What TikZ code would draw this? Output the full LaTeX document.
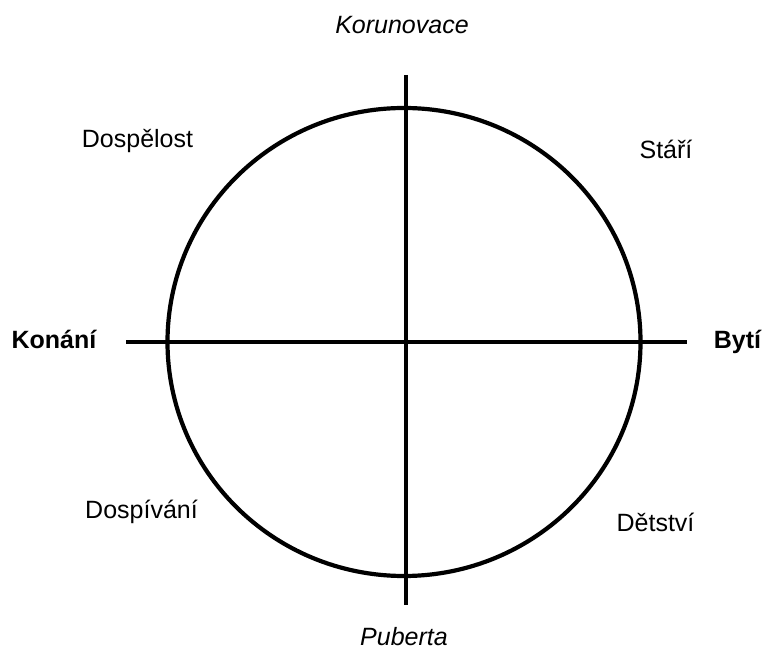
\documentclass[tikz,border=0pt]{standalone}
\usepackage{fontspec}
\setmainfont{Liberation Sans}
\begin{document}
\begin{tikzpicture}[x=1pt,y=1pt,
  lbl/.style={inner sep=0pt,font=\fontsize{25}{29}\selectfont,text height=17.5pt,text depth=0pt,anchor=center},
  axis/.style={line width=4.5pt},
  ring/.style={line width=4.2pt}]
\useasboundingbox (0,0) rectangle (762,650);
\coordinate (c) at (404,308);
\coordinate (top) at (406,575);
\coordinate (bot) at (406,45);
\coordinate (lft) at (126,308);
\coordinate (rgt) at (687,308);
\draw[ring] (c) circle[x radius=236.5, y radius=234];
\draw[axis] (top) -- (bot);
\draw[axis] (lft) -- (rgt);
\node[lbl,font=\fontsize{25}{29}\selectfont\itshape] (kor) at (402,625) {Korunovace};
\node[lbl,font=\fontsize{25}{29}\selectfont\itshape] (pub) at (404,13) {Puberta};
\node[lbl,font=\fontsize{25}{29}\selectfont\bfseries] (kon) at (54,310) {Konání};
\node[lbl,font=\fontsize{25}{29}\selectfont\bfseries] (byt) at (737.5,310) {Bytí};
\node[lbl] (dosp) at (137.5,511.5) {Dospělost};
\node[lbl] (sta) at (666,500.5) {Stáří};
\node[lbl] (dospi) at (141.5,140) {Dospívání};
\node[lbl] (det) at (655.5,127) {Dětství};
\end{tikzpicture}
\end{document}
